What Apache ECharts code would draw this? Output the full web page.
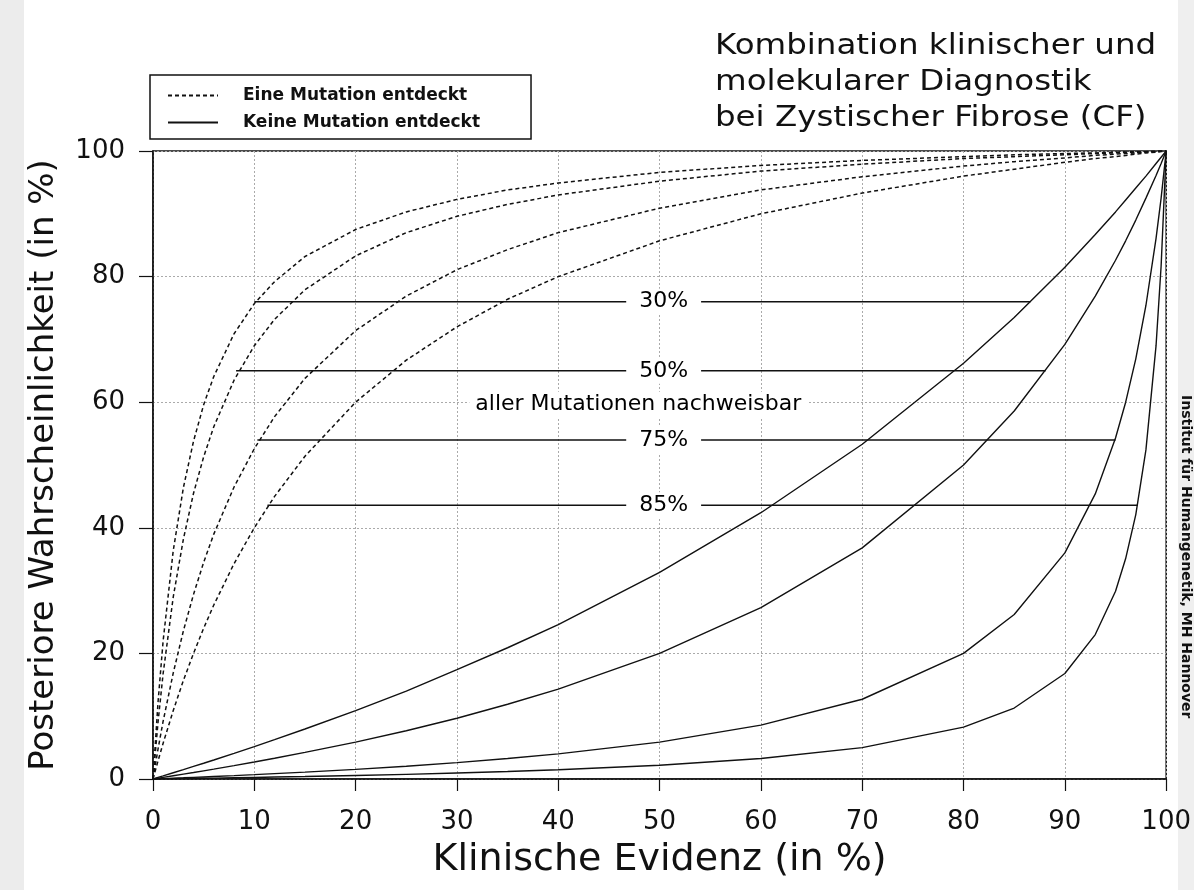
<!DOCTYPE html>
<html lang="de">
<head>
    <meta charset="UTF-8">
    <title>CF Diagnostik</title>
    <script src="https://cdn.jsdelivr.net/npm/echarts@6/dist/echarts.min.js"></script>
    <style>
        html, body { margin: 0; padding: 0; background: #fff; }
        #main { width: 1194px; height: 890px; }
    </style>
</head>
<body>
<div id="main"></div>
<script>
    // Klinische Evidenz (x), gemeinsam fuer alle Kurven
    var xs = [0, 0.5, 1, 2, 3, 4, 5, 6, 8, 10, 12, 15, 20, 25, 30, 35, 40, 50, 60, 70,
        80, 85, 90, 93, 95, 96, 97, 98, 99, 99.5, 100];

    // Eine Mutation entdeckt (gestrichelt), von oben nach unten: 30%, 50%, 75%, 85%
    var found30 = [0, 12.3, 22.0, 36.4, 46.4, 53.8, 59.6, 64.1, 70.9, 75.7, 79.2, 83.2, 87.5, 90.3, 92.3, 93.8, 94.9, 96.6, 97.7, 98.5,
        99.1, 99.4, 99.6, 99.7, 99.8, 99.85, 99.9, 99.9, 100, 100, 100];
    var found50 = [0, 9.1, 16.8, 29.0, 38.2, 45.5, 51.3, 56.1, 63.5, 69.0, 73.2, 77.9, 83.3, 87.0, 89.6, 91.5, 93.0, 95.2, 96.8, 97.9,
        98.8, 99.1, 99.4, 99.6, 99.7, 99.8, 99.8, 99.9, 99.9, 100, 100];
    var found75 = [0, 4.8, 9.2, 16.9, 23.6, 29.4, 34.5, 39.0, 46.5, 52.6, 57.7, 63.8, 71.4, 76.9, 81.1, 84.3, 87.0, 90.9, 93.8, 95.9,
        97.6, 98.3, 98.9, 99.3, 99.5, 99.6, 99.7, 99.8, 99.9, 99.95, 100];
    var found85 = [0, 2.9, 5.7, 10.9, 15.7, 20.0, 24.0, 27.7, 34.3, 40.0, 45.0, 51.4, 60.0, 66.7, 72.0, 76.4, 80.0, 85.7, 90.0, 93.3,
        96.0, 97.1, 98.2, 98.8, 99.1, 99.3, 99.5, 99.7, 99.8, 99.9, 100];

    // Keine Mutation entdeckt (durchgezogen)
    var none30 = [0, 0.25, 0.49, 0.99, 1.49, 2.0, 2.51, 3.03, 4.09, 5.16, 6.26, 7.96, 10.9, 14.0, 17.4, 20.9, 24.6, 32.9, 42.4, 53.3,
        66.2, 73.5, 81.5, 86.7, 90.3, 92.2, 94.1, 96.0, 98.0, 99.0, 100];
    var none50 = [0, 0.13, 0.25, 0.51, 0.77, 1.03, 1.30, 1.57, 2.13, 2.70, 3.30, 4.23, 5.88, 7.69, 9.68, 11.9, 14.3, 20.0, 27.3, 36.8,
        50.0, 58.6, 69.2, 76.9, 82.6, 85.7, 89.0, 92.5, 96.1, 98.0, 100];
    var none75 = [0, 0.03, 0.06, 0.13, 0.19, 0.26, 0.33, 0.40, 0.54, 0.69, 0.85, 1.09, 1.54, 2.04, 2.61, 3.26, 4.0, 5.88, 8.57, 12.7,
        20.0, 26.2, 36.0, 45.4, 54.3, 60.0, 66.9, 75.4, 86.1, 92.5, 100];
    var none85 = [0, 0.01, 0.02, 0.05, 0.07, 0.09, 0.12, 0.14, 0.20, 0.25, 0.31, 0.40, 0.56, 0.74, 0.96, 1.20, 1.48, 2.20, 3.26, 4.99,
        8.26, 11.3, 16.8, 23.0, 29.9, 35.1, 42.1, 52.4, 69.0, 81.7, 100];

    // Verbindungslinien mit Beschriftung (Anteil nachweisbarer Mutationen)
    var rateNames = ['30%', '50%', '75%', '85%'];
    var rateY = [76, 65, 54, 43.6];
    var rateStart = [10, 8.2, 10.3, 11.3];
    var rateEnd = [86.6, 88.1, 95.0, 97.2];
    var rateLabelX = 50.4;
    var noteText = 'aller Mutationen nachweisbar';
    var notePos = [47.9, 59.6];

    var xTicks = [0, 10, 20, 30, 40, 50, 60, 70, 80, 90, 100];
    var yTicks = [0, 20, 40, 60, 80, 100];

    var FONT = 'DejaVu Sans';

    function pairs(ys) {
        var out = [];
        for (var i = 0; i < xs.length; i++) {
            out.push([xs[i], ys[i]]);
        }
        return out;
    }

    var series = [];
    [found30, found50, found75, found85].forEach(function (ys) {
        series.push({
            name: 'Eine Mutation entdeckt',
            type: 'line',
            data: pairs(ys),
            symbol: 'none',
            color: '#111',
            lineStyle: { width: 1.5, type: [4, 3], color: '#111' },
            z: 3
        });
    });
    [none30, none50, none75, none85].forEach(function (ys) {
        series.push({
            name: 'Keine Mutation entdeckt',
            type: 'line',
            data: pairs(ys),
            symbol: 'none',
            color: '#111',
            lineStyle: { width: 1.4, type: 'solid', color: '#111' },
            z: 3
        });
    });
    // horizontale Linien
    for (var k = 0; k < rateNames.length; k++) {
        series.push({
            name: 'linie' + k,
            type: 'line',
            data: [[rateStart[k], rateY[k]], [rateEnd[k], rateY[k]]],
            symbol: 'none',
            lineStyle: { width: 1.5, color: '#111' },
            z: 3
        });
    }
    // Beschriftungen der Linien (weisser Hintergrund unterbricht die Linie)
    var labelData = [];
    for (var j = 0; j < rateNames.length; j++) {
        labelData.push({ value: [rateLabelX, rateY[j]], name: rateNames[j] });
    }
    labelData.push({ value: notePos, name: noteText, small: true });
    series.push({
        name: 'labels',
        type: 'scatter',
        symbolSize: 0,
        itemStyle: { opacity: 1 },
        data: labelData.map(function (d) {
            return {
                value: d.value,
                label: {
                    show: true,
                    position: 'inside',
                    formatter: d.name,
                    fontFamily: FONT,
                    fontSize: 22,
                    color: '#000',
                    opacity: 1,
                    backgroundColor: '#fff',
                    padding: d.small ? [2, 6] : [2, 13]
                }
            };
        }),
        silent: true,
        z: 10
    });

    var chart = echarts.init(document.getElementById('main'));
    var option = {
        animation: false,
        backgroundColor: '#fff',
        legend: {
            data: ['Eine Mutation entdeckt', 'Keine Mutation entdeckt'],
            orient: 'vertical',
            left: 150,
            top: 75,
            padding: [12, 51, 8, 17],
            itemGap: 10,
            itemWidth: 50,
            itemHeight: 12,
            borderColor: '#111',
            borderWidth: 1.5,
            borderRadius: 0,
            selectedMode: false,
            itemStyle: { opacity: 0 },
            textStyle: { fontFamily: FONT, fontSize: 17, fontWeight: 'bold', color: '#111', padding: [0, 0, 0, 20] }
        },
        graphic: [
            { type: 'rect', left: 0, top: 0, z: -1, shape: { width: 24, height: 890 }, style: { fill: '#ececec' } },
            { type: 'rect', left: 1178, top: 0, z: -1, shape: { width: 16, height: 890 }, style: { fill: '#efefef' } },
            {
                type: 'text',
                x: 715,
                y: 28,
                scaleX: 1.12,
                z: 10,
                style: {
                    text: 'Kombination klinischer und\nmolekularer Diagnostik\nbei Zystischer Fibrose (CF)',
                    fontFamily: FONT,
                    fontSize: 29,
                    lineHeight: 36,
                    fill: '#111'
                }
            },
            {
                type: 'text',
                x: 1193,
                y: 395,
                rotation: -Math.PI / 2,
                z: 10,
                style: {
                    text: 'Institut für Humangenetik, MH Hannover',
                    fontFamily: FONT,
                    fontSize: 14,
                    fontWeight: 'bold',
                    fill: '#111'
                }
            }
        ],
        grid: {
            left: 153,
            right: 24,
            top: 151,
            bottom: 111,
            show: true,
            borderColor: '#111',
            borderWidth: 1.5
        },
        xAxis: {
            type: 'value',
            min: 0,
            max: 100,
            interval: 10,
            name: 'Klinische Evidenz (in %)',
            nameLocation: 'middle',
            nameGap: 62,
            nameTextStyle: { fontFamily: FONT, fontSize: 38, color: '#111' },
            axisLine: { lineStyle: { color: '#111', width: 1.5 } },
            axisTick: { length: 12, lineStyle: { color: '#111', width: 1.2 } },
            axisLabel: {
                fontFamily: FONT, fontSize: 26, color: '#111', margin: 30,
                formatter: function (v) { return xTicks.indexOf(v) >= 0 ? String(v) : ''; }
            },
            splitLine: { lineStyle: { color: '#aaa', type: [2, 2], width: 1 } }
        },
        yAxis: {
            type: 'value',
            min: 0,
            max: 100,
            interval: 20,
            name: 'Posteriore Wahrscheinlichkeit (in %)',
            nameLocation: 'middle',
            nameGap: 92,
            nameTextStyle: { fontFamily: FONT, fontSize: 34, color: '#111' },
            axisLine: { lineStyle: { color: '#111', width: 1.5 } },
            axisTick: { length: 14, lineStyle: { color: '#111', width: 1.2 } },
            axisLabel: {
                fontFamily: FONT, fontSize: 26, color: '#111', margin: 28,
                formatter: function (v) { return yTicks.indexOf(v) >= 0 ? String(v) : ''; }
            },
            splitLine: { lineStyle: { color: '#aaa', type: [2, 2], width: 1 } }
        },
        series: series
    };
    chart.setOption(option);
</script>
</body>
</html>
